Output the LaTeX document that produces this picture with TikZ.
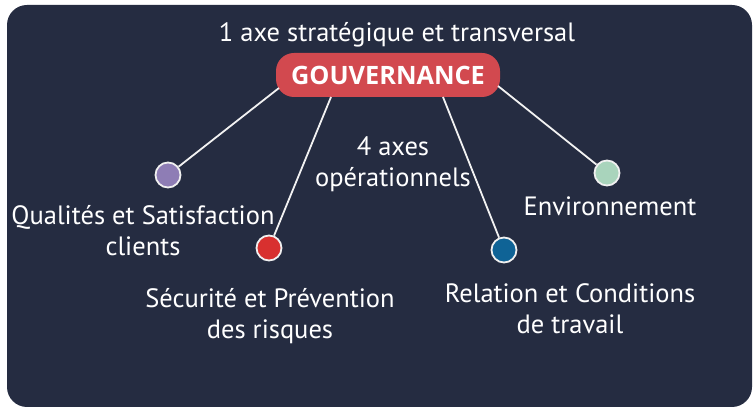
\documentclass[tikz,border=0pt]{standalone}
\usepackage{fontspec}
\setmainfont{PT Sans}
\newfontfamily\pillfont{Open Sans}
\begin{document}
\begin{tikzpicture}[x=1pt,y=-1pt,
  lbl/.style={text=white,align=center,font=\fontsize{26.5}{31}\selectfont,inner sep=0pt},
  dot/.style={circle,draw=white!88!gray,line width=1.8pt,minimum size=25pt,inner sep=0pt},
  conn/.style={draw=white!90!gray,line width=1.8pt}]
\definecolor{bg}{HTML}{252C41}
\definecolor{pillc}{HTML}{D2494F}
\definecolor{cpurple}{HTML}{8E7DB5}
\definecolor{cred}{HTML}{D8302F}
\definecolor{cgreen}{HTML}{A9D4BC}
\definecolor{cblue}{HTML}{0F6396}
\useasboundingbox (0,0) rectangle (756,411);
\fill[white] (0,0) rectangle (756,411);
\fill[bg,rounded corners=20pt] (7,5) rectangle (752,407);
\node[lbl] (title) at (397,35) {1 axe stratégique et transversal};
\node[fill=pillc,rounded corners=18pt,minimum width=224pt,minimum height=44pt,inner sep=0pt,
  text=white,font=\fontsize{25.3}{27}\pillfont\bfseries] (pill) at (388,75) {GOUVERNANCE};
\node[dot,fill=cpurple] (c1) at (168,175) {};
\node[dot,fill=cred] (c2) at (269,248) {};
\node[dot,fill=cblue] (c3) at (504,250) {};
\node[dot,fill=cgreen] (c4) at (607,173) {};
\coordinate (p1) at (279,88);
\coordinate (p2) at (331,97);
\coordinate (p3) at (443,97);
\coordinate (p4) at (498,86);
\draw[conn] (p1) -- (c1);
\draw[conn] (p2) -- (c2);
\draw[conn] (p3) -- (c3);
\draw[conn] (p4) -- (c4);
\node[lbl] (l1) at (143,231) {Qualités et Satisfaction\\clients};
\node[lbl] (l2) at (270,316) {Sécurité et Prévention\\des risques};
\node[lbl] (l0) at (393,164) {4 axes\\opérationnels};
\node[lbl] (l4) at (610,206) {Environnement};
\node[lbl] (l3) at (570,309) {Relation et Conditions\\de travail};
\end{tikzpicture}
\end{document}
